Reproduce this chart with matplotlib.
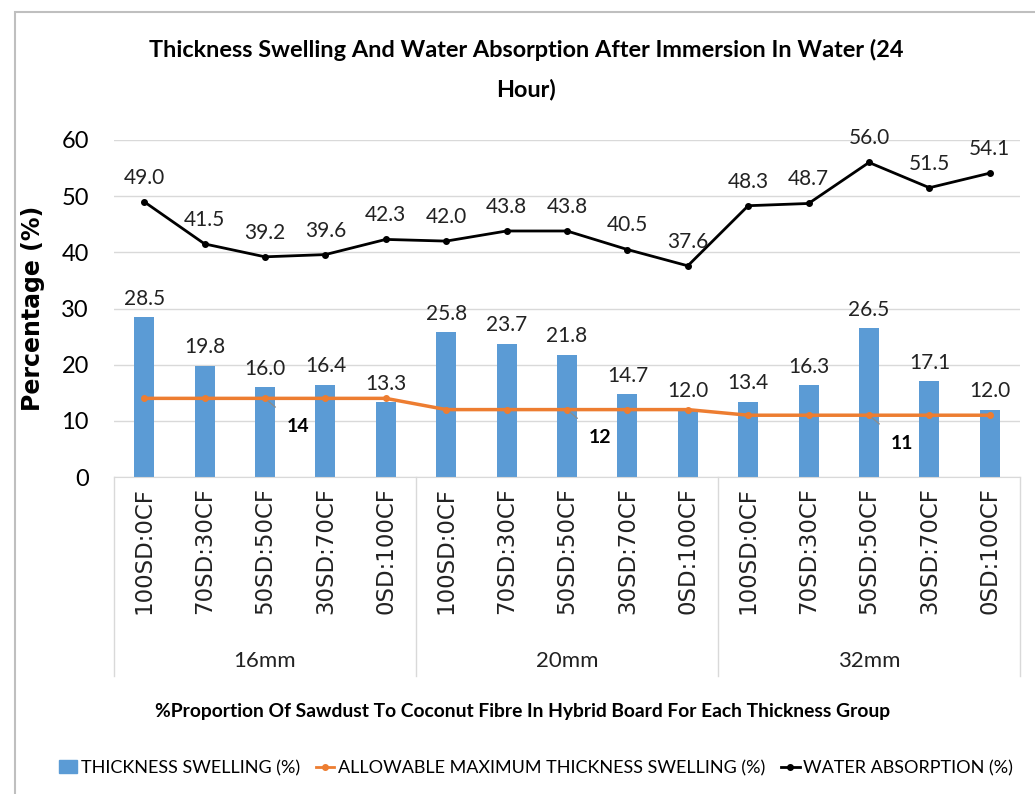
### thickness swelling / water absorption chart
import numpy as np
import matplotlib.pyplot as plt
from matplotlib.patches import Rectangle
from matplotlib.lines import Line2D

# data
ratios = ['100SD:0CF', '70SD:30CF', '50SD:50CF', '30SD:70CF', '0SD:100CF']
groups = ['16mm', '20mm', '32mm']
swelling = [28.5, 19.8, 16.0, 16.4, 13.3,
            25.8, 23.7, 21.8, 14.7, 12.0,
            13.4, 16.3, 26.5, 17.1, 12.0]
allowable = [14, 14, 14, 14, 14,
             12, 12, 12, 12, 12,
             11, 11, 11, 11, 11]
absorption = [49.0, 41.5, 39.2, 39.6, 42.3,
              42.0, 43.8, 43.8, 40.5, 37.6,
              48.3, 48.7, 56.0, 51.5, 54.1]

narrow = ['Lato', 'DejaVu Sans']
blue = '#5B9BD5'
orange = '#ED7D31'

fig = plt.figure(figsize=(10.35, 7.94), dpi=100)
# outer grey frame of the chart
fig.patches.append(Rectangle((15/1035, -0.05), 1.1, 1 - 12/794 + 0.05,
                             transform=fig.transFigure, fill=False,
                             edgecolor='#BFBFBF', linewidth=1.5))

ax = fig.add_axes([114/1035, 1 - 477/794, 906/1035, 337/794])
x = np.arange(len(swelling))

ax.bar(x, swelling, width=0.33, color=blue, zorder=2)
ax.plot(x, allowable, color=orange, linewidth=2.5, marker='o', markersize=4, zorder=3)
ax.plot(x, absorption, color='black', linewidth=2, marker='o', markersize=4, zorder=3)

# data labels
for xi, v in zip(x, swelling):
    ax.text(xi, v + 1.5, f'{v:.1f}', ha='center', va='bottom', fontsize=15,
            family=narrow, color='#222222')
for xi, v in zip(x, absorption):
    ax.text(xi, v + 2.5, f'{v:.1f}', ha='center', va='bottom', fontsize=15,
            family=narrow, color='#222222')
for i in [2, 7, 12]:
    ax.annotate(f'{allowable[i]}', xy=(x[i], allowable[i]), xytext=(x[i] + 0.55, allowable[i] - 5),
                ha='center', va='center', fontsize=14, fontweight='bold', family=narrow,
                arrowprops=dict(arrowstyle='-', color='#8C8C8C', lw=1, shrinkA=9, shrinkB=3))

ax.set_xlim(-0.5, len(x) - 0.5)
ax.set_ylim(0, 60)
ax.set_yticks(range(0, 61, 10))
ax.tick_params(axis='y', length=0, labelsize=17, pad=18)
for lab in ax.get_yticklabels():
    lab.set_family(narrow)
ax.grid(axis='y', color='#D9D9D9', linewidth=1, zorder=0)
ax.set_xticks([])
for s in ['top', 'right', 'left']:
    ax.spines[s].set_visible(False)
ax.spines['bottom'].set_color('#D9D9D9')
ax.set_ylabel('Percentage (%)', fontsize=17, fontweight='bold', labelpad=12)

# category labels under the axis
for xi in x:
    ax.text(xi, -0.03, ratios[xi % 5], transform=ax.get_xaxis_transform(), rotation=90,
            ha='center', va='top', fontsize=16.5, color='#222222')
for g, name in enumerate(groups):
    ax.text(g * 5 + 2, -0.545, name, transform=ax.get_xaxis_transform(),
            ha='center', va='center', fontsize=16, family=narrow, color='#222222')
for b in [-0.5, 4.5, 9.5, 14.5]:
    ax.add_line(Line2D([b, b], [0, -0.59], transform=ax.get_xaxis_transform(),
                       color='#D9D9D9', linewidth=1, clip_on=False))

fig.text(0.505, 1 - 712/794, '%Proportion Of Sawdust To Coconut Fibre In Hybrid Board For Each Thickness Group',
         ha='center', va='center', fontsize=13.9, fontweight='bold', family=narrow)
fig.text(0.508, 1 - 70/794, 'Thickness Swelling And Water Absorption After Immersion In Water (24\nHour)',
         ha='center', va='center', fontsize=16.9, fontweight='bold', family=narrow, linespacing=2.0)

handles = [Rectangle((0, 0), 1, 1, color=blue),
           Line2D([], [], color=orange, linewidth=2, marker='o', markersize=4),
           Line2D([], [], color='black', linewidth=2, marker='o', markersize=4)]
labels = ['THICKNESS SWELLING (%)', 'ALLOWABLE MAXIMUM THICKNESS SWELLING (%)', 'WATER ABSORPTION (%)']
fig.legend(handles, labels, loc='center', bbox_to_anchor=(0.518, 1 - 768/794), ncol=3,
           frameon=False, handlelength=1.0, handletextpad=0.2, columnspacing=0.9,
           prop={'family': narrow, 'size': 13})

plt.savefig('out.png', dpi=100)
